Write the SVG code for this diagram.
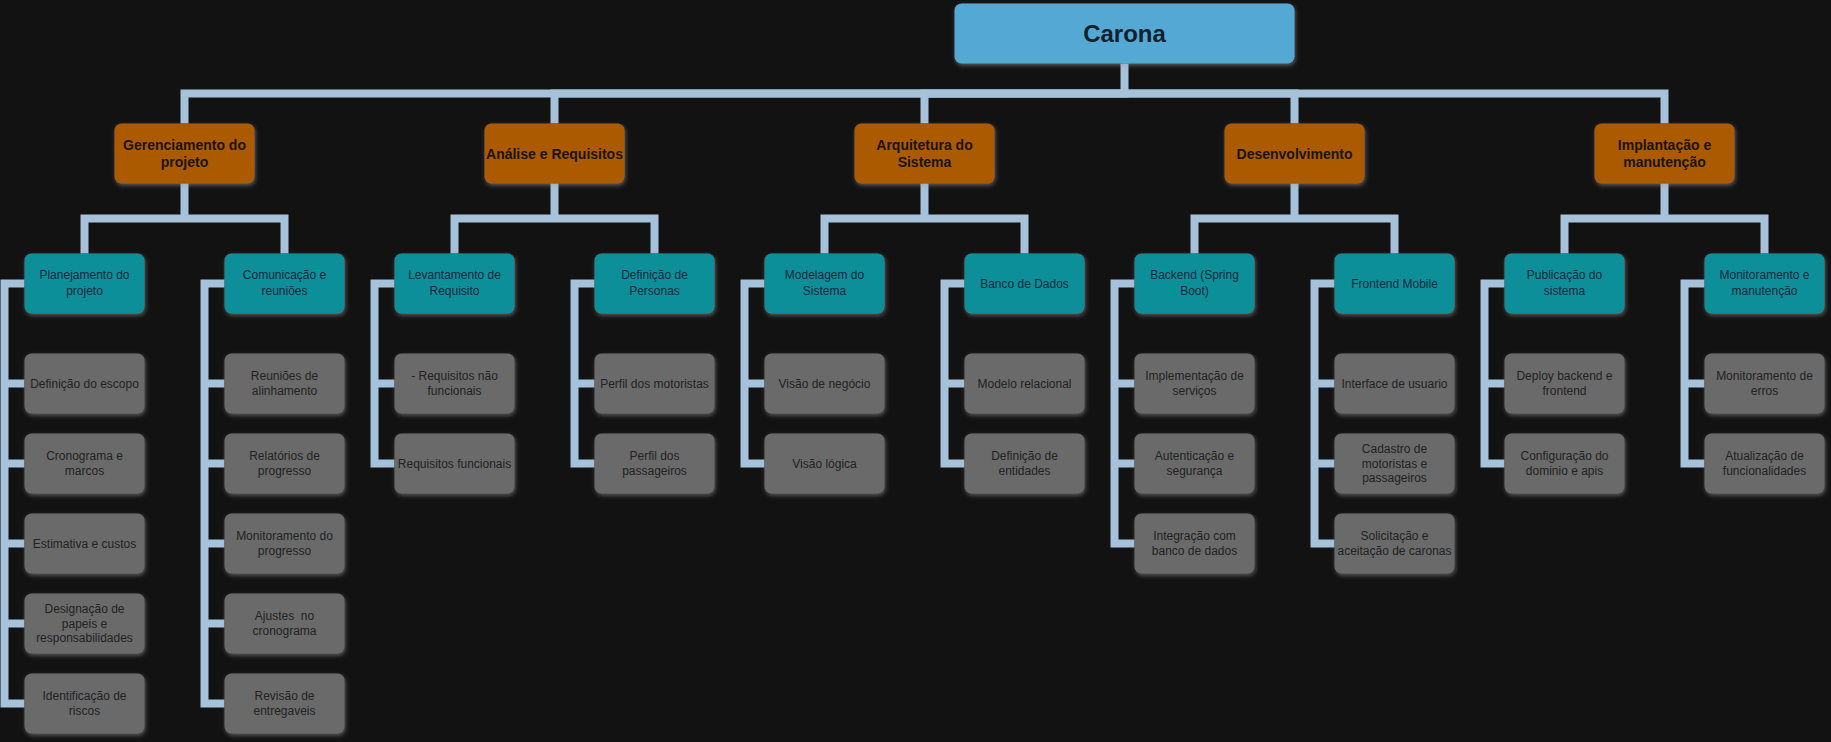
<svg xmlns="http://www.w3.org/2000/svg" width="1831" height="742" viewBox="0 0 1831 742">
<defs>
<filter id="glow" x="-20%" y="-20%" width="140%" height="150%">
<feDropShadow dx="1" dy="2" stdDeviation="2.2" flood-color="#a0a0a0" flood-opacity="0.5"/>
</filter>
<style>
text{font-family:"Liberation Sans",Arial,Helvetica,sans-serif;text-anchor:middle}
.c{fill:none;stroke:#a6c1da;stroke-width:8;stroke-linejoin:miter;stroke-linecap:butt}
.n rect{filter:url(#glow)}
.root rect{fill:#52a9d3}
.root text{font-size:24px;font-weight:bold;fill:#14202c}
.l1 rect{fill:#ab5a00}
.l1 text{font-size:14px;font-weight:bold;fill:#1a1410}
.l2 rect{fill:#0f8f9a}
.l2 text{font-size:12px;fill:#14283a}
.l3 rect{fill:#6a6a6a}
.l3 text{font-size:12px;fill:#222}
</style>
</defs>
<rect x="0" y="0" width="1831" height="742" fill="#121212"/>

<g id="connectors">
<path class="c" d="M1124.5 63.5V93.5H184.5V123.5"/>
<path class="c" d="M1124.5 93.5H554.5V123.5"/>
<path class="c" d="M1124.5 93.5H924.5V123.5"/>
<path class="c" d="M1124.5 93.5H1294.5V123.5"/>
<path class="c" d="M1124.5 93.5H1664.5V123.5"/>
<path class="c" d="M184.5 183.5V218.5H84.5V253.5M184.5 218.5H284.5V253.5"/>
<path class="c" d="M554.5 183.5V218.5H454.5V253.5M554.5 218.5H654.5V253.5"/>
<path class="c" d="M924.5 183.5V218.5H824.5V253.5M924.5 218.5H1024.5V253.5"/>
<path class="c" d="M1294.5 183.5V218.5H1194.5V253.5M1294.5 218.5H1394.5V253.5"/>
<path class="c" d="M1664.5 183.5V218.5H1564.5V253.5M1664.5 218.5H1764.5V253.5"/>
<path class="c" d="M24.5 283.5H4.5V703.5H24.5M4.5 383.5H24.5M4.5 463.5H24.5M4.5 543.5H24.5M4.5 623.5H24.5"/>
<path class="c" d="M224.5 283.5H204.5V703.5H224.5M204.5 383.5H224.5M204.5 463.5H224.5M204.5 543.5H224.5M204.5 623.5H224.5"/>
<path class="c" d="M394.5 283.5H374.5V463.5H394.5M374.5 383.5H394.5"/>
<path class="c" d="M594.5 283.5H574.5V463.5H594.5M574.5 383.5H594.5"/>
<path class="c" d="M764.5 283.5H744.5V463.5H764.5M744.5 383.5H764.5"/>
<path class="c" d="M964.5 283.5H944.5V463.5H964.5M944.5 383.5H964.5"/>
<path class="c" d="M1134.5 283.5H1114.5V543.5H1134.5M1114.5 383.5H1134.5M1114.5 463.5H1134.5"/>
<path class="c" d="M1334.5 283.5H1314.5V543.5H1334.5M1314.5 383.5H1334.5M1314.5 463.5H1334.5"/>
<path class="c" d="M1504.5 283.5H1484.5V463.5H1504.5M1484.5 383.5H1504.5"/>
<path class="c" d="M1704.5 283.5H1684.5V463.5H1704.5M1684.5 383.5H1704.5"/>
</g>

<g id="carona" class="n root"><rect x="954.5" y="3.5" width="340" height="60" rx="7"/><text x="1124.5" y="42">Carona</text></g>

<g id="gerenciamento" class="n l1"><rect x="114.5" y="123.5" width="140" height="60" rx="7"/><text x="184.5" y="150">Gerenciamento do</text><text x="184.5" y="167">projeto</text></g>
<g id="analise" class="n l1"><rect x="484.5" y="123.5" width="140" height="60" rx="7"/><text x="554.5" y="158.5">Análise e Requisitos</text></g>
<g id="arquitetura" class="n l1"><rect x="854.5" y="123.5" width="140" height="60" rx="7"/><text x="924.5" y="150">Arquitetura do</text><text x="924.5" y="167">Sistema</text></g>
<g id="desenvolvimento" class="n l1"><rect x="1224.5" y="123.5" width="140" height="60" rx="7"/><text x="1294.5" y="158.5">Desenvolvimento</text></g>
<g id="implantacao" class="n l1"><rect x="1594.5" y="123.5" width="140" height="60" rx="7"/><text x="1664.5" y="150">Implantação e</text><text x="1664.5" y="167">manutenção</text></g>

<g id="planejamento" class="n l2"><rect x="24.5" y="253.5" width="120" height="60" rx="7"/><text x="84.5" y="279.3">Planejamento do</text><text x="84.5" y="294.8">projeto</text></g>
<g id="comunicacao" class="n l2"><rect x="224.5" y="253.5" width="120" height="60" rx="7"/><text x="284.5" y="279.3">Comunicação e</text><text x="284.5" y="294.8">reuniões</text></g>
<g id="levantamento" class="n l2"><rect x="394.5" y="253.5" width="120" height="60" rx="7"/><text x="454.5" y="279.3">Levantamento de</text><text x="454.5" y="294.8">Requisito</text></g>
<g id="personas" class="n l2"><rect x="594.5" y="253.5" width="120" height="60" rx="7"/><text x="654.5" y="279.3">Definição de</text><text x="654.5" y="294.8">Personas</text></g>
<g id="modelagem" class="n l2"><rect x="764.5" y="253.5" width="120" height="60" rx="7"/><text x="824.5" y="279.3">Modelagem do</text><text x="824.5" y="294.8">Sistema</text></g>
<g id="banco" class="n l2"><rect x="964.5" y="253.5" width="120" height="60" rx="7"/><text x="1024.5" y="287.8">Banco de Dados</text></g>
<g id="backend" class="n l2"><rect x="1134.5" y="253.5" width="120" height="60" rx="7"/><text x="1194.5" y="279.3">Backend (Spring</text><text x="1194.5" y="294.8">Boot)</text></g>
<g id="frontend" class="n l2"><rect x="1334.5" y="253.5" width="120" height="60" rx="7"/><text x="1394.5" y="287.8">Frontend Mobile</text></g>
<g id="publicacao" class="n l2"><rect x="1504.5" y="253.5" width="120" height="60" rx="7"/><text x="1564.5" y="279.3">Publicação do</text><text x="1564.5" y="294.8">sistema</text></g>
<g id="monitoramento" class="n l2"><rect x="1704.5" y="253.5" width="120" height="60" rx="7"/><text x="1764.5" y="279.3">Monitoramento e</text><text x="1764.5" y="294.8">manutenção</text></g>

<g id="escopo" class="n l3"><rect x="24.5" y="353.5" width="120" height="60" rx="7"/><text x="84.5" y="387.8">Definição do escopo</text></g>
<g id="cronograma" class="n l3"><rect x="24.5" y="433.5" width="120" height="60" rx="7"/><text x="84.5" y="460.3">Cronograma e</text><text x="84.5" y="475">marcos</text></g>
<g id="estimativa" class="n l3"><rect x="24.5" y="513.5" width="120" height="60" rx="7"/><text x="84.5" y="547.8">Estimativa e custos</text></g>
<g id="designacao" class="n l3"><rect x="24.5" y="593.5" width="120" height="60" rx="7"/><text x="84.5" y="613.3">Designação de</text><text x="84.5" y="627.8">papeis e</text><text x="84.5" y="642.3">responsabilidades</text></g>
<g id="riscos" class="n l3"><rect x="24.5" y="673.5" width="120" height="60" rx="7"/><text x="84.5" y="700.3">Identificação de</text><text x="84.5" y="715">riscos</text></g>

<g id="reunioes" class="n l3"><rect x="224.5" y="353.5" width="120" height="60" rx="7"/><text x="284.5" y="380.3">Reuniões de</text><text x="284.5" y="395">alinhamento</text></g>
<g id="relatorios" class="n l3"><rect x="224.5" y="433.5" width="120" height="60" rx="7"/><text x="284.5" y="460.3">Relatórios de</text><text x="284.5" y="475">progresso</text></g>
<g id="monit-progresso" class="n l3"><rect x="224.5" y="513.5" width="120" height="60" rx="7"/><text x="284.5" y="540.3">Monitoramento do</text><text x="284.5" y="555">progresso</text></g>
<g id="ajustes" class="n l3"><rect x="224.5" y="593.5" width="120" height="60" rx="7"/><text x="284.5" y="620.3">Ajustes&#160; no</text><text x="284.5" y="635">cronograma</text></g>
<g id="revisao" class="n l3"><rect x="224.5" y="673.5" width="120" height="60" rx="7"/><text x="284.5" y="700.3">Revisão de</text><text x="284.5" y="715">entregaveis</text></g>

<g id="req-nao-func" class="n l3"><rect x="394.5" y="353.5" width="120" height="60" rx="7"/><text x="454.5" y="380.3">- Requisitos não</text><text x="454.5" y="395">funcionais</text></g>
<g id="req-func" class="n l3"><rect x="394.5" y="433.5" width="120" height="60" rx="7"/><text x="454.5" y="467.8">Requisitos funcionais</text></g>

<g id="perfil-motoristas" class="n l3"><rect x="594.5" y="353.5" width="120" height="60" rx="7"/><text x="654.5" y="387.8">Perfil dos motoristas</text></g>
<g id="perfil-passageiros" class="n l3"><rect x="594.5" y="433.5" width="120" height="60" rx="7"/><text x="654.5" y="460.3">Perfil dos</text><text x="654.5" y="475">passageiros</text></g>

<g id="visao-negocio" class="n l3"><rect x="764.5" y="353.5" width="120" height="60" rx="7"/><text x="824.5" y="387.8">Visão de negócio</text></g>
<g id="visao-logica" class="n l3"><rect x="764.5" y="433.5" width="120" height="60" rx="7"/><text x="824.5" y="467.8">Visão lógica</text></g>

<g id="modelo-relacional" class="n l3"><rect x="964.5" y="353.5" width="120" height="60" rx="7"/><text x="1024.5" y="387.8">Modelo relacional</text></g>
<g id="entidades" class="n l3"><rect x="964.5" y="433.5" width="120" height="60" rx="7"/><text x="1024.5" y="460.3">Definição de</text><text x="1024.5" y="475">entidades</text></g>

<g id="servicos" class="n l3"><rect x="1134.5" y="353.5" width="120" height="60" rx="7"/><text x="1194.5" y="380.3">Implementação de</text><text x="1194.5" y="395">serviços</text></g>
<g id="autenticacao" class="n l3"><rect x="1134.5" y="433.5" width="120" height="60" rx="7"/><text x="1194.5" y="460.3">Autenticação e</text><text x="1194.5" y="475">segurança</text></g>
<g id="integracao" class="n l3"><rect x="1134.5" y="513.5" width="120" height="60" rx="7"/><text x="1194.5" y="540.3">Integração com</text><text x="1194.5" y="555">banco de dados</text></g>

<g id="interface" class="n l3"><rect x="1334.5" y="353.5" width="120" height="60" rx="7"/><text x="1394.5" y="387.8">Interface de usuario</text></g>
<g id="cadastro" class="n l3"><rect x="1334.5" y="433.5" width="120" height="60" rx="7"/><text x="1394.5" y="453.3">Cadastro de</text><text x="1394.5" y="467.8">motoristas e</text><text x="1394.5" y="482.3">passageiros</text></g>
<g id="solicitacao" class="n l3"><rect x="1334.5" y="513.5" width="120" height="60" rx="7"/><text x="1394.5" y="540.3">Solicitação e</text><text x="1394.5" y="555">aceitação de caronas</text></g>

<g id="deploy" class="n l3"><rect x="1504.5" y="353.5" width="120" height="60" rx="7"/><text x="1564.5" y="380.3">Deploy backend e</text><text x="1564.5" y="395">frontend</text></g>
<g id="configuracao" class="n l3"><rect x="1504.5" y="433.5" width="120" height="60" rx="7"/><text x="1564.5" y="460.3">Configuração do</text><text x="1564.5" y="475">dominio e apis</text></g>

<g id="monit-erros" class="n l3"><rect x="1704.5" y="353.5" width="120" height="60" rx="7"/><text x="1764.5" y="380.3">Monitoramento de</text><text x="1764.5" y="395">erros</text></g>
<g id="atualizacao" class="n l3"><rect x="1704.5" y="433.5" width="120" height="60" rx="7"/><text x="1764.5" y="460.3">Atualização de</text><text x="1764.5" y="475">funcionalidades</text></g>
</svg>
